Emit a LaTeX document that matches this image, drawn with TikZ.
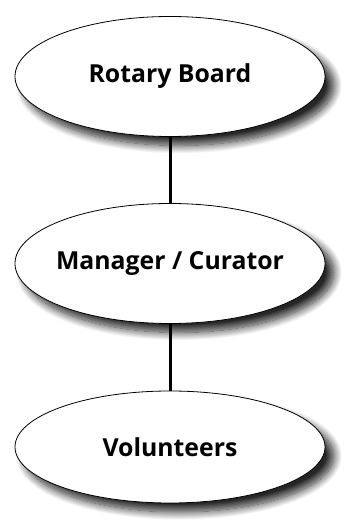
\documentclass[tikz,border=0pt]{standalone}
\usepackage{fontspec}
\setmainfont{Open Sans}
\usetikzlibrary{shapes.geometric,shadows.blur}
\begin{document}
\begin{tikzpicture}[x=1pt,y=1pt]
	%---------------- Styles ----------------
	\tikzset{
		roleoval/.style={ellipse, draw=black, line width=0.8pt, fill=white,
			minimum width=310pt, minimum height=120pt, inner sep=0pt,
			font=\fontsize{24.8}{28}\selectfont\bfseries,
			blur shadow={shadow xshift=9pt, shadow yshift=-9pt,
				shadow blur steps=14, shadow blur radius=8pt, shadow opacity=85}}, % oval with soft shadow
		link/.style={line width=3pt, black},                      % vertical connector
	}
	% keep the oval size fixed whatever the label width
	\def\rolelabel#1{\makebox[150pt]{#1}}
	
	%---------------- Canvas ----------------
	\useasboundingbox (0,0) rectangle (343,525);
	
	%---------------- Ovals ----------------
	\node[roleoval] (board) at (170,448.5) {\rolelabel{Rotary Board}};
	\node[roleoval] (curator) at (170,261.5) {\rolelabel{Manager / Curator}};
	\node[roleoval, minimum height=112pt] (volunteers) at (170,78) {\rolelabel{Volunteers}};
	
	%---------------- Connectors ----------------
	\draw[link] (board.south) -- (curator.north);
	\draw[link] (curator.south) -- (volunteers.north);
\end{tikzpicture}
\end{document}
